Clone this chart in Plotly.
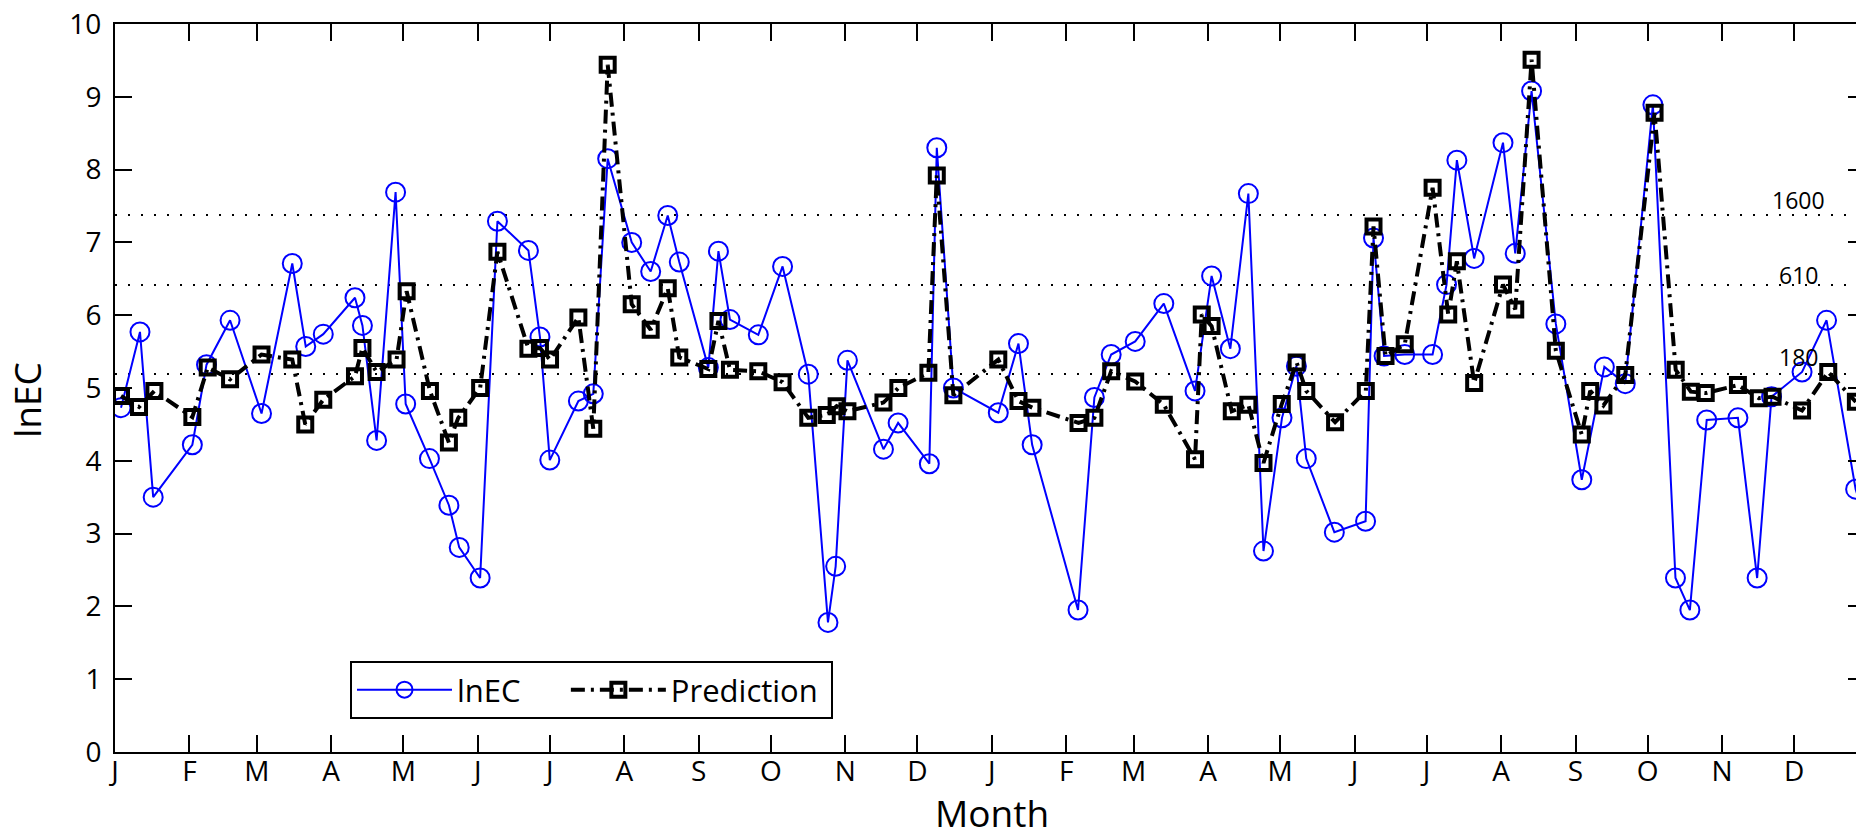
import math
import plotly.graph_objects as go

# ---- data (x in days from 1 Jan of first year) ----
lnec_day = [2.5, 10.4, 15.9, 32.2, 38.1, 47.9, 61.0, 73.8, 79.4, 86.7, 99.9, 103.0, 108.9, 116.8,
            121.0, 130.9, 139.0, 143.3, 152.0, 159.2, 172.1, 176.9, 181.0, 192.9, 199.1, 205.1,
            215.1, 223.0, 230.1, 234.9, 247.0, 251.2, 256.0, 267.8, 277.9, 288.6, 296.8, 300.0,
            304.9, 319.9, 326.0, 339.0, 342.1, 349.0, 367.7, 376.1, 381.8, 400.9, 407.7, 414.7,
            424.7, 436.6, 449.6, 456.5, 464.3, 471.8, 478.1, 485.8, 491.8, 495.9, 507.6, 520.6,
            523.9, 528.3, 536.9, 548.5, 554.3, 558.6, 565.8, 577.8, 582.9, 589.7, 599.8, 610.6,
            620.0, 628.7, 640.2, 649.6, 655.6, 662.6, 675.6, 683.6, 689.6, 702.3, 712.5, 724.6, 734.0]
lnec_val = [4.73, 5.77, 3.50, 4.22, 5.32, 5.93, 4.65, 6.71, 5.57, 5.74, 6.24, 5.86, 4.28, 7.69,
            4.78, 4.03, 3.39, 2.81, 2.39, 7.29, 6.89, 5.70, 4.01, 4.82, 4.92, 8.15,
            7.00, 6.60, 7.37, 6.73, 5.28, 6.88, 5.94, 5.73, 6.67, 5.19, 1.78, 2.55,
            5.38, 4.16, 4.52, 3.96, 8.30, 5.00, 4.66, 5.61, 4.22, 1.95, 4.87, 5.46,
            5.64, 6.16, 4.96, 6.54, 5.54, 7.67, 2.76, 4.59, 5.30, 4.03, 3.02, 3.17,
            7.06, 5.44, 5.46, 5.46, 6.42, 8.13, 6.78, 8.37, 6.85, 9.08, 5.88, 3.74,
            5.29, 5.06, 8.89, 2.39, 1.95, 4.56, 4.59, 2.39, 4.88, 5.22, 5.93, 3.61, 2.60]

pred_day = [2.5, 10.0, 16.4, 32.2, 38.6, 47.9, 61.0, 73.8, 79.2, 86.7, 99.9, 103.0, 108.9, 117.2,
            121.4, 131.1, 139.0, 142.9, 152.0, 159.2, 172.1, 176.9, 181.1, 192.9, 199.1, 205.1,
            215.1, 223.0, 230.1, 234.9, 247.0, 251.2, 256.0, 267.8, 277.9, 288.6, 296.3, 300.4,
            304.9, 319.9, 326.1, 338.6, 342.1, 349.0, 367.7, 376.1, 381.9, 401.1, 407.7, 414.7,
            424.7, 436.6, 449.6, 452.4, 456.5, 464.9, 471.8, 478.1, 485.7, 491.9, 495.9, 507.9,
            520.7, 523.9, 528.9, 536.9, 548.5, 555.0, 558.6, 565.8, 577.8, 582.9, 589.7, 599.8,
            610.6, 614.1, 619.6, 628.7, 640.9, 649.7, 656.0, 662.2, 675.6, 684.3, 690.0, 702.3,
            713.2, 724.7]
pred_val = [4.89, 4.74, 4.96, 4.60, 5.28, 5.12, 5.46, 5.39, 4.50, 4.84, 5.16, 5.55, 5.22, 5.39,
            6.33, 4.96, 4.25, 4.59, 5.00, 6.87, 5.54, 5.55, 5.39, 5.97, 4.44, 9.44,
            6.15, 5.80, 6.37, 5.42, 5.26, 5.92, 5.25, 5.23, 5.08, 4.59, 4.63, 4.75,
            4.68, 4.80, 5.00, 5.21, 7.92, 4.90, 5.39, 4.82, 4.73, 4.52, 4.59, 5.23,
            5.09, 4.77, 4.02, 6.01, 5.85, 4.68, 4.77, 3.97, 4.78, 5.35, 4.96, 4.53,
            4.96, 7.22, 5.44, 5.60, 7.75, 6.01, 6.74, 5.07, 6.42, 6.08, 9.51, 5.51,
            4.36, 4.96, 4.76, 5.18, 8.78, 5.25, 4.95, 4.93, 5.04, 4.86, 4.88, 4.69,
            5.22, 4.81]

tick_days = [0, 31, 59, 90, 120, 151, 181, 212, 243, 273, 304, 334,
             365, 396, 424, 455, 485, 516, 546, 577, 608, 638, 669, 699]
tick_text = ["J", "F", "M", "A", "M", "J", "J", "A", "S", "O", "N", "D"] * 2

ref_labels = ["1600", "610", "180"]
ref_values = [math.log(1600), math.log(610), math.log(180)]
ref_shift = [15, 10, 17]

FONT = "Open Sans"
NB = "&nbsp;"

fig = go.Figure()
fig.add_trace(go.Scatter(
    x=lnec_day, y=lnec_val, name="lnEC" + NB * 5, mode="lines+markers",
    line=dict(color="#0000ff", width=2),
    marker=dict(symbol="circle-open", size=19, color="#0000ff", line=dict(width=2, color="#0000ff")),
))
fig.add_trace(go.Scatter(
    x=pred_day, y=pred_val, name="Prediction" + NB, mode="lines+markers",
    line=dict(color="black", width=4, dash="14px,6px,3px,6px"),
    marker=dict(symbol="square-open", size=14, color="black", line=dict(width=4, color="black")),
))

XMAX = 728.5
for lab, v, ys in zip(ref_labels, ref_values, ref_shift):
    fig.add_shape(type="line", xref="x", yref="y", x0=0, x1=XMAX, y0=v, y1=v,
                  line=dict(color="black", width=2, dash="2px,11px"), layer="below")
    fig.add_annotation(x=701, y=v, text=lab, showarrow=False, xref="x", yref="y",
                       yshift=ys, font=dict(family=FONT, size=23, color="black"))

axis_common = dict(showline=True, linecolor="black", linewidth=2, mirror="ticks",
                   ticks="inside", ticklen=17, tickwidth=2, tickcolor="black",
                   showgrid=False, zeroline=False, ticklabeloverflow="allow",
                   tickfont=dict(family=FONT, size=28, color="black"))

fig.update_xaxes(range=[0, XMAX], tickmode="array", tickvals=tick_days, ticktext=tick_text,
                 ticklabelstandoff=-7, **axis_common)
fig.update_yaxes(range=[0, 10], tickmode="array", tickvals=list(range(11)),
                 ticklabelstandoff=6, **axis_common)

fig.add_annotation(xref="paper", yref="paper", x=(983.6 - 107) / 1750, y=-(804 - 744) / 728,
                   text="Month", showarrow=False, font=dict(family=FONT, size=37, color="black"),
                   xanchor="center", yanchor="middle")
fig.add_annotation(xref="paper", yref="paper", x=-(107 - 19) / 1750, y=(744 - 392) / 728,
                   text="lnEC", showarrow=False, textangle=-90,
                   font=dict(family=FONT, size=37, color="black"),
                   xanchor="center", yanchor="middle")

fig.update_layout(
    width=1864, height=835,
    margin=dict(l=107, r=7, t=16, b=91, autoexpand=False),
    paper_bgcolor="white", plot_bgcolor="white",
    showlegend=True,
    legend=dict(orientation="h", x=(342 - 107) / 1750, y=(744 - 653) / 728,
                xanchor="left", yanchor="top", bgcolor="white",
                bordercolor="black", borderwidth=2, itemwidth=95,
                font=dict(family=FONT, size=31, color="black")),
)

fig.write_html("out.html")
